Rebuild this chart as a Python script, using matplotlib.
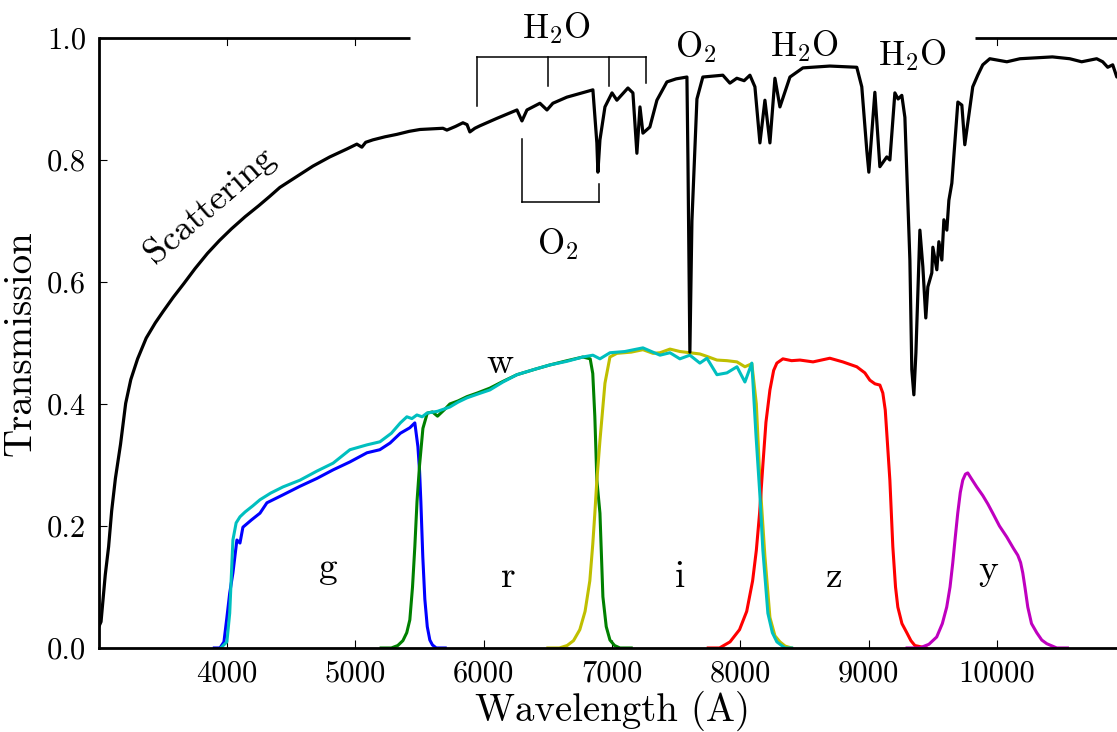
import matplotlib
matplotlib.use("Agg")
import matplotlib.pyplot as plt

plt.rcParams["font.family"] = ["cmr10", "DejaVu Serif"]
plt.rcParams["mathtext.fontset"] = "cm"
plt.rcParams["axes.formatter.use_mathtext"] = True

# Atmospheric transmission (wavelength in Angstrom)
atm_wave = [3000, 3017, 3050, 3076, 3100, 3129, 3169, 3209, 3249, 3302, 3369, 3440, 3502,
            3580, 3661, 3750, 3847, 3940, 4033, 4140, 4246, 4330, 4411, 4500, 4566, 4669,
            4800, 4933, 5011, 5050, 5080, 5136, 5230, 5323, 5420, 5503, 5600, 5682, 5713,
            5780, 5838, 5870, 5892, 5931, 5970, 6100, 6259,
            6298, 6337, 6438, 6493, 6539, 6648, 6750, 6851, 6882, 6890, 6906, 6945,
            7000, 7038, 7124, 7163, 7194, 7218, 7241, 7295, 7350, 7428, 7500, 7584,
            7592, 7607, 7623, 7662, 7708, 7864, 7919, 7973, 8030, 8075, 8114, 8153,
            8192, 8231, 8270, 8309, 8387, 8488, 8698, 8908, 8947, 8986, 9002, 9049,
            9088, 9142, 9166, 9205, 9230, 9259, 9283, 9322, 9337, 9353, 9369, 9400, 9423,
            9446, 9462, 9493, 9501, 9532, 9548, 9571, 9587, 9610, 9626, 9649, 9672, 9696,
            9727, 9750, 9789, 9812, 9851, 9890, 9945, 10078, 10180, 10433, 10568, 10661,
            10778, 10825, 10864, 10903, 10935, 11000]
atm_trans = [0.035, 0.043, 0.12, 0.166, 0.225, 0.278, 0.334, 0.401, 0.440, 0.474, 0.508,
             0.533, 0.552, 0.575, 0.597, 0.622, 0.647, 0.668, 0.687, 0.707, 0.725, 0.740,
             0.755, 0.767, 0.776, 0.790, 0.805, 0.818, 0.826, 0.821, 0.829, 0.833, 0.838,
             0.842, 0.847, 0.850, 0.851, 0.852, 0.849, 0.855, 0.861, 0.858, 0.846, 0.852,
             0.856, 0.868, 0.882,
             0.864, 0.882, 0.893, 0.882, 0.893, 0.903, 0.909, 0.915, 0.828, 0.780, 0.833, 0.887,
             0.910, 0.898, 0.918, 0.910, 0.811, 0.887, 0.844, 0.854, 0.898, 0.928, 0.933, 0.936,
             0.80, 0.485, 0.70, 0.90, 0.936, 0.939, 0.926, 0.934, 0.930, 0.939, 0.920, 0.828,
             0.898, 0.828, 0.934, 0.887, 0.936, 0.951, 0.954, 0.952, 0.920, 0.816, 0.780, 0.911,
             0.789, 0.805, 0.800, 0.910, 0.900, 0.906, 0.870, 0.636, 0.456, 0.415, 0.484,
             0.685, 0.625, 0.541, 0.592, 0.615, 0.657, 0.620, 0.666, 0.636, 0.702, 0.685,
             0.734, 0.762, 0.828, 0.895, 0.890, 0.825, 0.885, 0.920, 0.939, 0.956, 0.966,
             0.961, 0.966, 0.969, 0.966, 0.961, 0.966, 0.961, 0.952, 0.956, 0.936, 0.950]

# Filter throughputs
g_wave = [3900, 3944, 3975, 3998, 4020, 4045, 4076, 4100, 4123, 4190, 4256, 4310, 4435,
          4567, 4700, 4826, 4957, 5090, 5190, 5270, 5350, 5424, 5463, 5487, 5500, 5510,
          5525, 5541, 5560, 5580, 5600, 5630, 5700]
g_thr = [0.0, 0.0, 0.01, 0.05, 0.09, 0.123, 0.177, 0.172, 0.198, 0.21, 0.221, 0.238, 0.251,
         0.265, 0.278, 0.292, 0.305, 0.320, 0.325, 0.336, 0.352, 0.361, 0.369, 0.33, 0.29, 0.24,
         0.15, 0.08, 0.035, 0.013, 0.005, 0.0, 0.0]

r_wave = [5200, 5280, 5330, 5370, 5400, 5424, 5445, 5463, 5480, 5500, 5526, 5560, 5600,
          5640, 5700, 5736, 5800, 5869, 5950, 6048, 6150, 6259, 6400, 6516, 6650, 6773,
          6830, 6850, 6866, 6882, 6906, 6929, 6955, 6984, 7020, 7062, 7150]
r_thr = [0.0, 0.0, 0.004, 0.012, 0.025, 0.046, 0.10, 0.166, 0.24, 0.30, 0.36, 0.385, 0.387,
         0.380, 0.392, 0.400, 0.405, 0.412, 0.418, 0.426, 0.437, 0.448, 0.457, 0.464, 0.471,
         0.477, 0.474, 0.45, 0.38, 0.275, 0.221, 0.084, 0.035, 0.013, 0.004, 0.0, 0.0]

i_wave = [6500, 6590, 6650, 6700, 6749, 6790, 6827, 6850, 6866, 6882, 6906, 6945, 6984,
          7038, 7150, 7241, 7320, 7374, 7452, 7530, 7607, 7685, 7740, 7818, 7896, 7974,
          8036, 8090, 8125, 8153, 8192, 8231, 8270, 8309, 8350, 8400]
i_thr = [0.0, 0.0, 0.004, 0.012, 0.03, 0.06, 0.11, 0.17, 0.22, 0.275, 0.34, 0.434, 0.477,
         0.483, 0.485, 0.489, 0.483, 0.484, 0.490, 0.486, 0.484, 0.482, 0.478, 0.472, 0.471,
         0.469, 0.461, 0.466, 0.40, 0.275, 0.15, 0.05, 0.02, 0.01, 0.003, 0.0]

z_wave = [7750, 7838, 7920, 7994, 8050, 8096, 8125, 8150, 8176, 8200, 8231, 8260, 8285,
          8332, 8400, 8465, 8567, 8698, 8799, 8908, 8971, 9010, 9050, 9088, 9111, 9130,
          9142, 9166, 9189, 9210, 9228, 9260, 9298, 9330, 9361, 9450]
z_thr = [0.0, 0.0, 0.01, 0.03, 0.06, 0.11, 0.16, 0.22, 0.30, 0.37, 0.423, 0.455, 0.467,
         0.474, 0.471, 0.472, 0.469, 0.475, 0.469, 0.461, 0.451, 0.439, 0.433, 0.431, 0.418,
         0.39, 0.352, 0.275, 0.166, 0.10, 0.067, 0.04, 0.025, 0.012, 0.004, 0.0]

y_wave = [9300, 9398, 9470, 9531, 9575, 9609, 9635, 9656, 9675, 9695, 9715, 9734, 9755,
          9773, 9800, 9843, 9890, 9930, 9968, 10020, 10077, 10130, 10163, 10185, 10202,
          10220, 10241, 10270, 10311, 10350, 10389, 10467, 10550]
y_thr = [0.0, 0.0, 0.006, 0.018, 0.04, 0.067, 0.10, 0.139, 0.18, 0.221, 0.255, 0.275, 0.285,
         0.287, 0.278, 0.264, 0.250, 0.236, 0.221, 0.200, 0.182, 0.163, 0.152, 0.140, 0.123,
         0.098, 0.067, 0.040, 0.025, 0.013, 0.007, 0.0, 0.0]

w_wave = [3950, 3998, 4020, 4045, 4070, 4100, 4140, 4200, 4256, 4340, 4435, 4567, 4700,
          4826, 4957, 5090, 5191, 5280, 5350, 5401, 5440, 5479, 5520, 5557, 5640, 5736,
          5800, 5869, 5950, 6048, 6150, 6259, 6400, 6516, 6650, 6773, 6851, 6906, 6984,
          7100, 7241, 7374, 7452, 7529, 7607, 7685, 7740, 7818, 7896, 7974, 8036, 8090,
          8122, 8153, 8176, 8215, 8250, 8285, 8348, 8400]
w_thr = [0.0, 0.01, 0.057, 0.177, 0.205, 0.215, 0.223, 0.233, 0.243, 0.254, 0.264, 0.275,
         0.290, 0.303, 0.325, 0.333, 0.338, 0.352, 0.369, 0.379, 0.376, 0.382, 0.379, 0.385,
         0.388, 0.395, 0.403, 0.410, 0.416, 0.423, 0.436, 0.448, 0.457, 0.464, 0.470, 0.477,
         0.480, 0.474, 0.484, 0.486, 0.492, 0.480, 0.484, 0.474, 0.480, 0.467, 0.475, 0.448,
         0.451, 0.461, 0.436, 0.467, 0.35, 0.25, 0.16, 0.057, 0.025, 0.01, 0.0, 0.0]

filters = [
    ("g", g_wave, g_thr, (0.0, 0.0, 1.0), 4786, 0.115),
    ("r", r_wave, r_thr, (0.0, 0.5, 0.0), 6189, 0.100),
    ("i", i_wave, i_thr, (0.75, 0.75, 0.0), 7533, 0.100),
    ("z", z_wave, z_thr, (1.0, 0.0, 0.0), 8729, 0.100),
    ("y", y_wave, y_thr, (0.75, 0.0, 0.75), 9929, 0.111),
    ("w", w_wave, w_thr, (0.0, 0.75, 0.75), 6130, 0.451),
]

# Absorption feature annotations: (text, x, y)
band_labels = [
    ("H$_2$O", 6570, 1.000),
    ("O$_2$", 7652, 0.969),
    ("H$_2$O", 8504, 0.970),
    ("H$_2$O", 9344, 0.956),
    ("O$_2$", 6577, 0.646),
]

# Bracket marking the H2O bands: bar level, bar ends, and leg (x, lower end)
h2o_bar_y = 0.969
h2o_bar_x = [5947, 7264]
h2o_legs = [(5947, 0.889), (6500, 0.921), (6975, 0.921), (7264, 0.926)]
# Bracket marking the O2 bands (legs point upward)
o2_bar_y = 0.731
o2_bar_x = [6298, 6898]
o2_legs = [(6298, 0.834), (6898, 0.761)]

x_ticks = [4000, 5000, 6000, 7000, 8000, 9000, 10000]
y_ticks = [0.0, 0.2, 0.4, 0.6, 0.8, 1.0]

fig = plt.figure(figsize=(11.17, 7.32), dpi=100)
ax = fig.add_axes([0.0885, 0.1148, 0.9188, 0.8333])

for name, wv, th, col, lx, ly in filters:
    ax.plot(wv, th, color=col, lw=2.2, solid_joinstyle="round")
    ax.text(lx, ly, name, ha="center", va="baseline", fontsize=27)

ax.plot(atm_wave, atm_trans, color="black", lw=2.3, solid_joinstyle="round")

ax.text(3866, 0.726, "Scattering", rotation=41, ha="center", va="center",
        fontsize=26, rotation_mode="anchor")

for txt, x, y in band_labels:
    ax.text(x, y, txt, ha="center", va="baseline", fontsize=25, clip_on=False)

ax.plot(h2o_bar_x, [h2o_bar_y, h2o_bar_y], color="black", lw=1.1, clip_on=False)
for x, y in h2o_legs:
    ax.plot([x, x], [h2o_bar_y, y], color="black", lw=1.1)
ax.plot(o2_bar_x, [o2_bar_y, o2_bar_y], color="black", lw=1.1)
for x, y in o2_legs:
    ax.plot([x, x], [o2_bar_y, y], color="black", lw=1.1)

ax.set_xlim(3000, 11000)
ax.set_ylim(0.0, 1.0)
ax.set_xticks(x_ticks)
ax.set_xticklabels([str(t) for t in x_ticks])
ax.set_yticks(y_ticks)
ax.set_yticklabels([f"{t:.1f}" for t in y_ticks])
ax.tick_params(direction="in", length=6, width=0.8, labelsize=22, top=False, right=True)
ax.tick_params(axis="x", pad=9)
ax.tick_params(axis="y", pad=9)

for side in ("left", "bottom", "right"):
    ax.spines[side].set_linewidth(2.0)
ax.spines["top"].set_visible(False)

# Top frame is only drawn at the two ends, clear of the band labels
top_segments = [(3000, 5425), (9828, 11000)]
for x0, x1 in top_segments:
    ax.plot([x0, x1], [1.0, 1.0], color="black", lw=2.0, clip_on=False,
            solid_capstyle="butt")
for t in (4000, 5000, 10000):
    ax.plot([t, t], [1.0, 0.988], color="black", lw=0.8, clip_on=False)

ax.set_xlabel("Wavelength (A)", fontsize=28, labelpad=2)
ax.set_ylabel("Transmission", fontsize=28, labelpad=6)

fig.savefig("out.png", dpi=100)
